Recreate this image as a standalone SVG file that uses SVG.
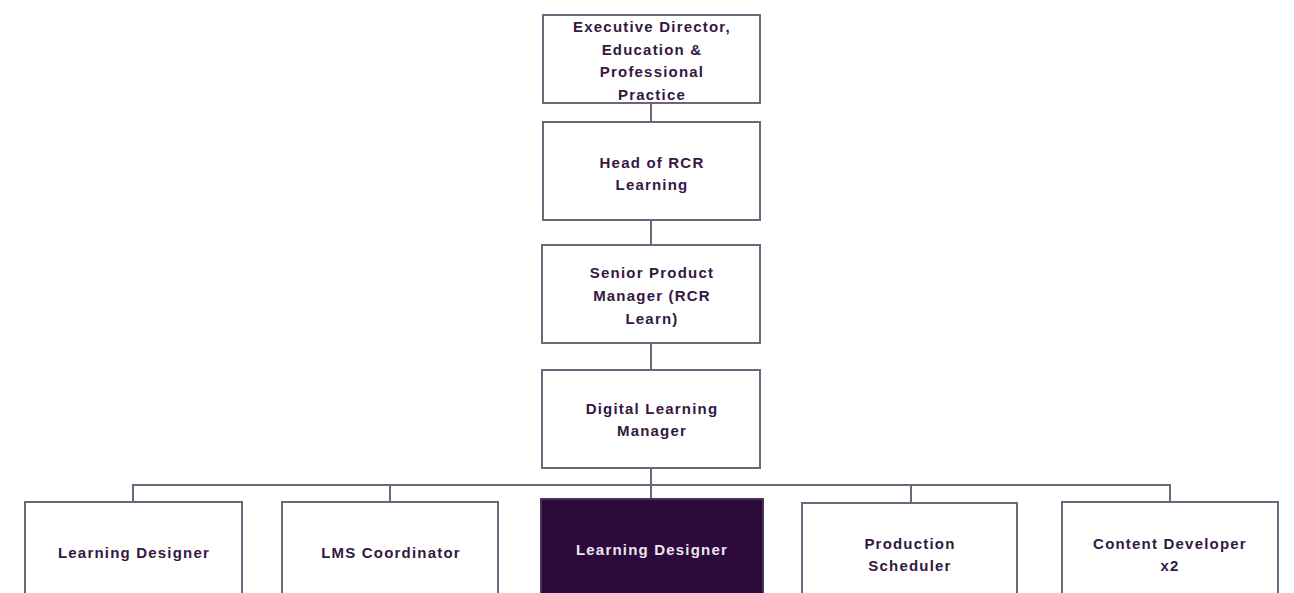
<svg xmlns="http://www.w3.org/2000/svg" width="1294" height="593" viewBox="0 0 1294 593">
<style>
.box{fill:#ffffff;stroke:#6f6479;stroke-width:2}
.dark{fill:#2d0a3c;stroke:#4a3358;stroke-width:2}
.t{font-family:"Liberation Sans",Arial,sans-serif;font-weight:bold;font-size:15px;letter-spacing:1.2px;fill:#34183f;text-anchor:middle;dominant-baseline:central}
.tw{fill:#ece6ef}
.c{fill:none;stroke:#6f6479;stroke-width:2}
</style>
<rect width="1294" height="593" fill="#ffffff"/>
<g id="connectors">
<line class="c" x1="651" y1="103" x2="651" y2="122"/>
<line class="c" x1="651" y1="220" x2="651" y2="245"/>
<line class="c" x1="651" y1="343" x2="651" y2="370"/>
<line class="c" x1="651" y1="468" x2="651" y2="499"/>
<polyline class="c" points="133,502 133,485 1170,485 1170,502"/>
<line class="c" x1="390" y1="485" x2="390" y2="502"/>
<line class="c" x1="911" y1="485" x2="911" y2="503"/>
</g>
<g id="exec">
<rect class="box" x="543" y="15" width="217" height="88"/>
<text class="t" x="652" y="26">Executive Director,</text>
<text class="t" x="652" y="49">Education &amp;</text>
<text class="t" x="652" y="71">Professional</text>
<text class="t" x="652" y="94">Practice</text>
</g>
<g id="head">
<rect class="box" x="543" y="122" width="217" height="98"/>
<text class="t" x="652" y="162">Head of RCR</text>
<text class="t" x="652" y="184">Learning</text>
</g>
<g id="spm">
<rect class="box" x="542" y="245" width="218" height="98"/>
<text class="t" x="652" y="272">Senior Product</text>
<text class="t" x="652" y="295">Manager (RCR</text>
<text class="t" x="652" y="318">Learn)</text>
</g>
<g id="dlm">
<rect class="box" x="542" y="370" width="218" height="98"/>
<text class="t" x="652" y="408">Digital Learning</text>
<text class="t" x="652" y="430">Manager</text>
</g>
<g id="ld1">
<rect class="box" x="25" y="502" width="217" height="110"/>
<text class="t" x="134" y="552">Learning Designer</text>
</g>
<g id="lms">
<rect class="box" x="282" y="502" width="216" height="110"/>
<text class="t" x="391" y="552">LMS Coordinator</text>
</g>
<g id="ld2">
<rect class="dark" x="541" y="499" width="222" height="110"/>
<text class="t tw" x="652" y="549">Learning Designer</text>
</g>
<g id="prod">
<rect class="box" x="802" y="503" width="215" height="110"/>
<text class="t" x="910" y="543">Production</text>
<text class="t" x="910" y="565">Scheduler</text>
</g>
<g id="content">
<rect class="box" x="1062" y="502" width="216" height="110"/>
<text class="t" x="1170" y="543">Content Developer</text>
<text class="t" x="1170" y="565">x2</text>
</g>
</svg>
